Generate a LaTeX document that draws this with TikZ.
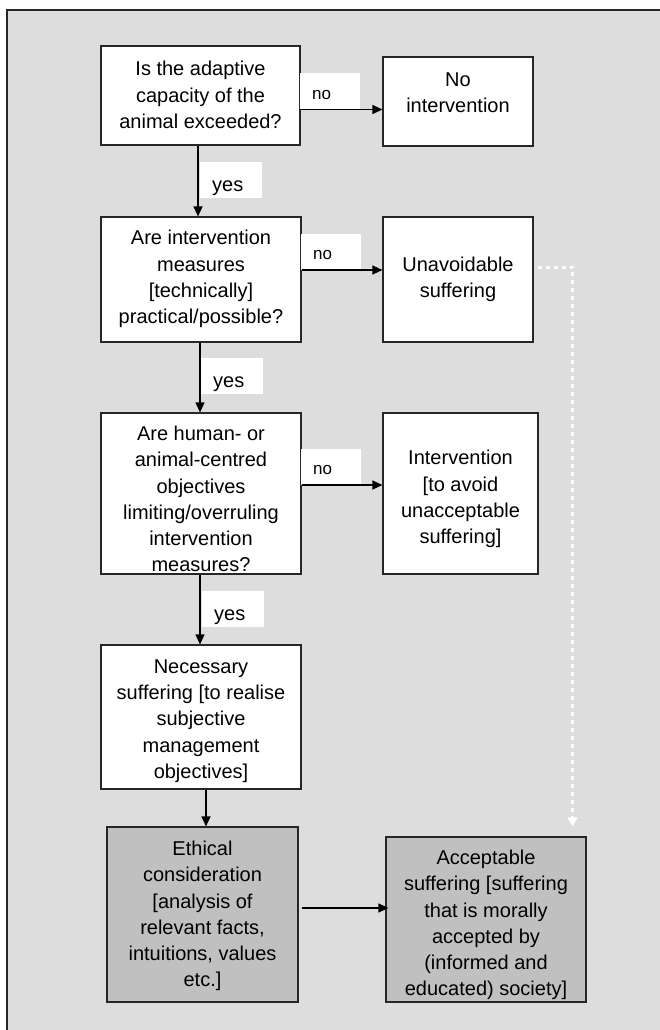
\documentclass[tikz,border=0pt]{standalone}
\usepackage{fontspec}
\setmainfont{Liberation Sans}
\usetikzlibrary{arrows.meta,calc}
\definecolor{bg}{HTML}{DDDDDD}
\definecolor{boxgray}{HTML}{C0C0C0}
\definecolor{edge}{HTML}{262626}
\tikzset{
  box/.style={draw=edge, line width=1.2pt, fill=white, inner sep=0pt},
  graybox/.style={box, fill=boxgray},
  txt/.style={align=center, inner sep=0pt, font=\fontsize{20}{26.2}\selectfont},
  nolab/.style={fill=white, anchor=south west, inner xsep=12pt, inner ysep=0pt,
    text width=36pt, align=left, minimum height=36pt, text height=16pt,
    text depth=0pt, font=\fontsize{17}{19}\selectfont},
  yeslab/.style={fill=white, anchor=north west, inner xsep=12pt, inner ysep=0pt,
    text width=38pt, align=left, minimum height=36pt, text height=23pt,
    text depth=0pt, font=\fontsize{20}{22}\selectfont},
  arr/.style={-{Triangle[length=10pt,width=9pt]}, line width=1.3pt, draw=black},
  dots/.style={draw=white, line width=3pt, dash pattern=on 4pt off 4pt,
    -{Triangle[length=9pt,width=10pt,fill=white]}}
}
\begin{document}
\begin{tikzpicture}[x=1pt,y=-1pt]
\useasboundingbox (0,0) rectangle (660,1030);
% frame
\fill[bg] (7,10) rectangle (660,1030);
\draw[edge, line width=1.3pt] (7,1030) -- (7,10) -- (660,10);

% boxes
\node[box, minimum width=199pt, minimum height=99pt] (b1) at (200.5,95.5) {};
\node[box, minimum width=150pt, minimum height=89pt] (b1n) at (458,101.5) {};
\node[box, minimum width=200pt, minimum height=125pt] (b2) at (201,279.5) {};
\node[box, minimum width=150pt, minimum height=125pt] (b2n) at (458,279.5) {};
\node[box, minimum width=200pt, minimum height=161pt] (b3) at (201,493.5) {};
\node[box, minimum width=155pt, minimum height=161pt] (b3n) at (460.5,493.5) {};
\node[box, minimum width=200pt, minimum height=144pt] (b4) at (201,717) {};
\node[graybox, minimum width=191pt, minimum height=175pt] (b5) at (202.5,914.5) {};
\node[graybox, minimum width=200pt, minimum height=165pt] (b6) at (486,919.5) {};

% texts
\node[txt] (t1) at (200.5,95) {Is the adaptive\\capacity of the\\animal exceeded?};
\node[txt] (t1n) at (458,93) {No\\intervention};
\node[txt] (t2) at (201,279) {Are intervention\\measures\\{[technically]}\\practical/possible?};
\node[txt] (t2n) at (458,279) {Unavoidable\\suffering};
\node[txt] (t3) at (201,499) {Are human- or\\animal-centred\\objectives\\limiting/overruling\\intervention\\measures?};
\node[txt] (t3n) at (460.5,499) {Intervention\\{[to avoid}\\unacceptable\\suffering]};
\node[txt] (t4) at (201,721) {Necessary\\suffering [to realise\\subjective\\management\\objectives]};
\node[txt] (t5) at (202.5,916) {Ethical\\consideration\\{[analysis of}\\relevant facts,\\intuitions, values\\etc.]};
\node[txt] (t6) at (486,925) {Acceptable\\suffering [suffering\\that is morally\\accepted by\\(informed and\\educated) society]};

% labels
\node[nolab] (n1) at (300,109.5) {no};
\node[nolab] (n2) at (301,270) {no};
\node[nolab] (n3) at (301,485) {no};
\node[yeslab] (y1) at (200,162) {yes};
\node[yeslab] (y2) at (201,358) {yes};
\node[yeslab] (y3) at (202,591) {yes};

% dotted connector
\draw[dots] ([xshift=4pt,yshift=12.5pt]b2n.east) -| ([xshift=-14pt,yshift=10pt]b6.north east);

% arrows
\draw[arr] ([xshift=-2.5pt]b1.south) -- ([xshift=-2.5pt]b1.south |- b2.north);
\draw[arr] ([xshift=-1pt]b2.south) -- ([xshift=-1pt]b2.south |- b3.north);
\draw[arr] ([xshift=-1pt]b3.south) -- ([xshift=-1pt]b3.south |- b4.north);
\draw[arr] ([xshift=5pt]b4.south) -- ([xshift=5pt]b4.south |- b5.north);
\draw[arr] ([yshift=-14pt]b1.east) -- ([yshift=-14pt]b1.east -| b1n.west);
\draw[arr] ([yshift=9.5pt]b2.east) -- ([yshift=9.5pt]b2.east -| b2n.west);
\draw[arr] ([yshift=8.5pt]b3.east) -- ([yshift=8.5pt]b3.east -| b3n.west);
\draw[arr] ([xshift=3pt,yshift=6.5pt]b5.east) -- ([xshift=3pt,yshift=6.5pt]b5.east -| b6.west);
\end{tikzpicture}
\end{document}
